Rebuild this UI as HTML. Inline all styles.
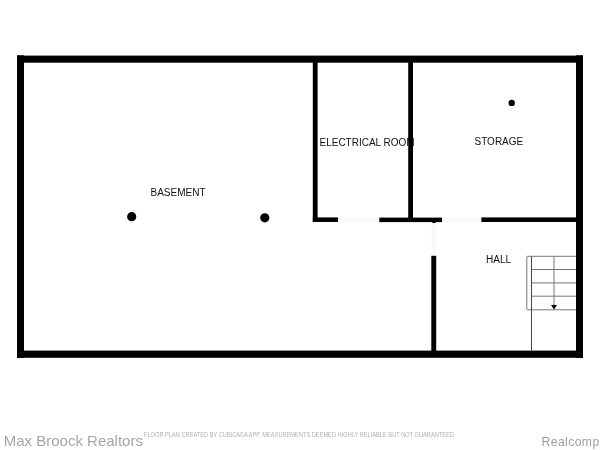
<!DOCTYPE html>
<html><head><meta charset="utf-8">
<style>
html,body{margin:0;padding:0;background:#fff;width:600px;height:450px;overflow:hidden;}
svg{display:block;will-change:transform;}
text{font-family:"Liberation Sans",sans-serif;}
</style></head><body>
<svg width="600" height="450" viewBox="0 0 600 450">
<rect x="0" y="0" width="600" height="450" fill="#fff"/>
<!-- door opening faint lines -->
<rect x="338" y="217.5" width="41" height="4.5" fill="#f8f8f8"/>
<rect x="442" y="217.5" width="39.5" height="4.5" fill="#f8f8f8"/>
<rect x="431.5" y="222" width="4.5" height="33.5" fill="#f8f8f8"/>

<!-- labels -->
<text x="150.5" y="196.2" font-size="10" fill="#111">BASEMENT</text>
<text x="319.5" y="145.6" font-size="10" fill="#111">ELECTRICAL ROOM</text>
<text x="474.5" y="144.6" font-size="10" fill="#111">STORAGE</text>
<text x="486" y="262.7" font-size="10" fill="#111">HALL</text>

<!-- outer walls -->
<rect x="17" y="55.6" width="566" height="7.1" fill="#000"/>
<rect x="17" y="350.6" width="566" height="7.2" fill="#000"/>
<rect x="17" y="55.3" width="7" height="302.5" fill="#000"/>
<rect x="576" y="55.3" width="7" height="302.5" fill="#000"/>

<!-- interior walls -->
<rect x="312.8" y="60" width="4.8" height="162" fill="#000"/>
<rect x="408.2" y="60" width="4.8" height="162" fill="#000"/>
<rect x="312.8" y="217.4" width="25.2" height="4.6" fill="#000"/>
<rect x="379.3" y="217.6" width="62.7" height="4.5" fill="#000"/>
<rect x="481.4" y="217.4" width="96" height="4.6" fill="#000"/>
<rect x="431.3" y="255.8" width="4.9" height="97" fill="#000"/>
<rect x="432.3" y="221" width="3.3" height="2" fill="#000"/>

<!-- dots -->
<circle cx="131.7" cy="216.7" r="4.6" fill="#000"/>
<circle cx="264.8" cy="217.8" r="4.6" fill="#000"/>
<circle cx="511.7" cy="102.9" r="3.2" fill="#000"/>

<!-- stairs -->
<g stroke="#777" stroke-width="1" fill="none">
<path d="M531.5 256.3 H527.5 Q526.8 256.3 526.8 257 V309 Q526.8 309.8 527.5 309.8 H576"/>
<line x1="531.5" y1="256.3" x2="576" y2="256.3"/>
<line x1="531.5" y1="269.5" x2="576" y2="269.5"/>
<line x1="531.5" y1="282.9" x2="576" y2="282.9"/>
<line x1="531.5" y1="296.2" x2="576" y2="296.2"/>
<line x1="554" y1="256.3" x2="554" y2="305"/>
</g>
<line x1="531.5" y1="256.3" x2="531.5" y2="351" stroke="#444" stroke-width="1"/>
<path d="M551 305 H557 L554 309.5 Z" fill="#000"/>

<!-- footer -->
<text x="3.7" y="445.7" font-size="15" fill="#a6a6a6">Max Broock Realtors</text>
<text x="144" y="436.7" font-size="6.3" textLength="311.5" lengthAdjust="spacingAndGlyphs" fill="#b0b0b0">FLOOR PLAN CREATED BY CUBICASA APP. MEASUREMENTS DEEMED HIGHLY RELIABLE BUT NOT GUARANTEED.</text>
<text x="541.5" y="445.6" font-size="12.2" letter-spacing="0.4" fill="#a0a0a0">Realcomp</text>
</svg>
</body></html>
